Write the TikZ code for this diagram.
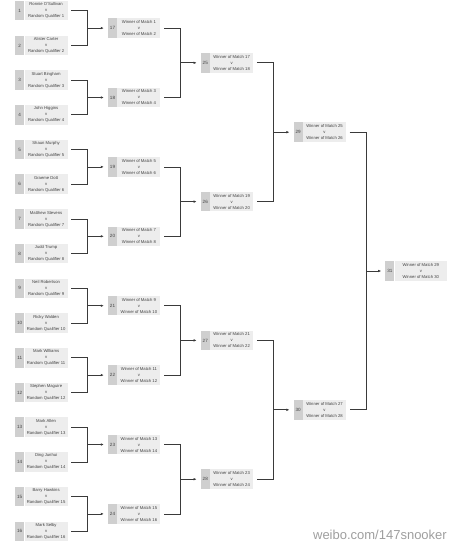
\documentclass[tikz,border=0pt]{standalone}
\usepackage{fontspec}
\setmainfont{Liberation Sans}
\usetikzlibrary{arrows.meta,positioning,calc}
\definecolor{numgray}{HTML}{CFCFCF}
\definecolor{txtgray}{HTML}{EDEDED}
\definecolor{linegray}{HTML}{3A3A3A}

\begin{document}
\begin{tikzpicture}[x=1pt,y=-1pt,
  every node/.style={inner sep=0pt, text=black!75},
  numbox/.style={fill=numgray, minimum width=9pt, minimum height=19.5pt, font=\fontsize{4.6}{5}\selectfont},
  txtbox/.style={fill=txtgray, minimum width=43pt, minimum height=19.5pt, align=center, font=\fontsize{4.2}{6}\selectfont},
  link/.style={draw=linegray, line width=0.7pt, shorten <=3.5pt, shorten >=3.5pt},
  arr/.style={draw=linegray, line width=0.7pt, -{Latex[length=3pt,width=2.6pt]}, shorten >=4pt}]
			\useasboundingbox (0,0) rectangle (450,545);
			% first round
			\foreach \i/\who in {1/Ronnie O'Sullivan, 2/Alister Carter, 3/Stuart Bingham, 4/John Higgins,
			  5/Shaun Murphy, 6/Graeme Dott, 7/Matthew Stevens, 8/Judd Trump,
			  9/Neil Robertson, 10/Ricky Walden, 11/Mark Williams, 12/Stephen Maguire,
			  13/Mark Allen, 14/Ding Junhui, 15/Barry Hawkins, 16/Mark Selby} {
				\node[numbox, anchor=west] (n\i) at (15, {10.75+34.7*(\i-1)}) {\i};
				\node[txtbox, right=0pt of n\i] (t\i) {\who\\v\\Random Qualifier \i};
			}
			% later rounds
			\foreach \m/\a/\b in {17/1/2, 18/3/4, 19/5/6, 20/7/8, 21/9/10, 22/11/12, 23/13/14, 24/15/16,
			  25/17/18, 26/19/20, 27/21/22, 28/23/24, 29/25/26, 30/27/28} {
				\coordinate (j\m) at ($(t\a.east)!.5!(t\b.east)+(20,0)$);
				\node[numbox, right=20pt of j\m] (n\m) {\m};
				\node[txtbox, right=0pt of n\m] (t\m) {Winner of Match \a\\v\\Winner of Match \b};
				\draw[link] (t\a.east) -| (j\m) |- (t\b.east);
				\draw[arr] (j\m) -- (n\m);
			}
			% final
			\coordinate (j31) at ($(t29.east)!.5!(t30.east)+(20,0)$);
			\node[numbox, right=19pt of j31] (n31) {31};
			\node[txtbox, minimum width=52pt, right=0pt of n31] (t31) {Winner of Match 29\\v\\Winner of Match 30};
			\draw[link] (t29.east) -| (j31) |- (t30.east);
			\draw[arr] (j31) -- (n31);
			\node[text=black!38, font=\fontsize{13}{13}\selectfont, anchor=base east] (mark) at (447,539) {weibo.com/147snooker};
		\end{tikzpicture}
\end{document}
